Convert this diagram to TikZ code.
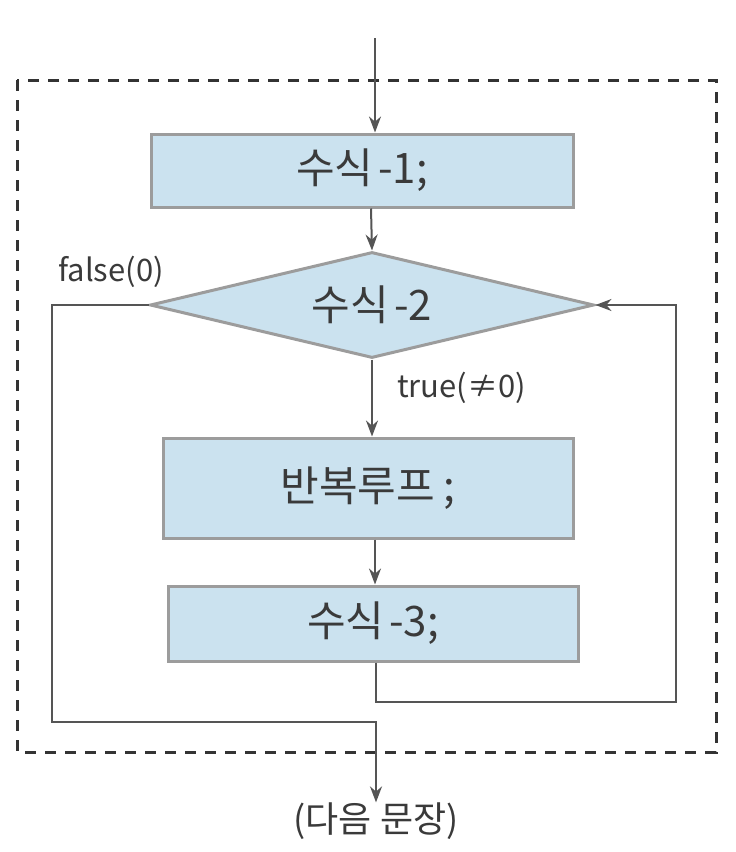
\documentclass[tikz,border=0pt]{standalone}
\usepackage{fontspec}
\setmainfont{Noto Sans CJK KR}
\usetikzlibrary{shapes.geometric,arrows.meta}
\definecolor{boxfill}{HTML}{CBE2EF}
\definecolor{boxline}{HTML}{9C9C9C}
\definecolor{txt}{HTML}{3A3A3A}
\definecolor{conn}{HTML}{555555}
\tikzset{
  procbox/.style={draw=boxline,fill=boxfill,line width=3pt,inner sep=0pt,text=txt,font=\fontsize{42}{48}\selectfont},
  decbox/.style={diamond,draw=boxline,fill=boxfill,line width=3pt,inner sep=0pt,text=txt,font=\fontsize{42}{48}\selectfont},
  conn/.style={draw=conn,line width=2pt},
  arr/.style={conn,-{Stealth[length=16pt,width=12pt]}},
  lbl/.style={text=txt,font=\fontsize{31}{36}\selectfont,inner sep=0pt}
}
\begin{document}
\begin{tikzpicture}[x=1pt,y=-1pt]
\useasboundingbox (0,0) rectangle (736,852);
% dashed frame
\draw[draw=black!80,line width=3pt,dash pattern=on 11pt off 9pt] (17,80) rectangle (716,752);
% nodes
\node[procbox,minimum width=422pt,minimum height=73pt] (b1) at (362,170.5) {수식\hspace{0.12em}-1;};
\node[decbox,minimum width=444pt,minimum height=106pt,aspect=4.19] (d) at (372,305) {수식\hspace{0.12em}-2};
\node[procbox,minimum width=410pt,minimum height=100pt] (b2) at (368,488) {반복루프\hspace{0.2em};};
\node[procbox,minimum width=410pt,minimum height=75pt] (b3) at (373,623.5) {수식\hspace{0.12em}-3;};
\node[lbl,font=\fontsize{36}{40}\selectfont] (next) at (376,821) {(다음 문장)};
\node[lbl,anchor=west] (lf) at (58,272) {false(0)};
\node[lbl,anchor=west] (lt) at (397,388) {true(≠0)};
\coordinate (start) at (375,38);
\coordinate (c12) at (371,0);
\coordinate (c23) at (375,0);
\coordinate (fl1) at (52,305);
\coordinate (fl2) at (52,722);
\coordinate (fl3) at (376,722);
\coordinate (lp1) at (376,702);
\coordinate (lp2) at (676,702);
\coordinate (lp3) at (676,305);
% connectors
\draw[arr] (start) -- (start |- b1.north);
\draw[arr] (c12 |- b1.south) -- (d.north);
\draw[arr] (d.south) -- (d.south |- b2.north);
\draw[arr] (c23 |- b2.south) -- (c23 |- b3.north);
\draw[arr] (lp1 |- b3.south) -- (lp1) -- (lp2) -- (lp3) -- (d.east);
\draw[arr] (d.west) -- (fl1) -- (fl2) -- (fl3) -- (fl3 |- next.north);
\end{tikzpicture}
\end{document}
